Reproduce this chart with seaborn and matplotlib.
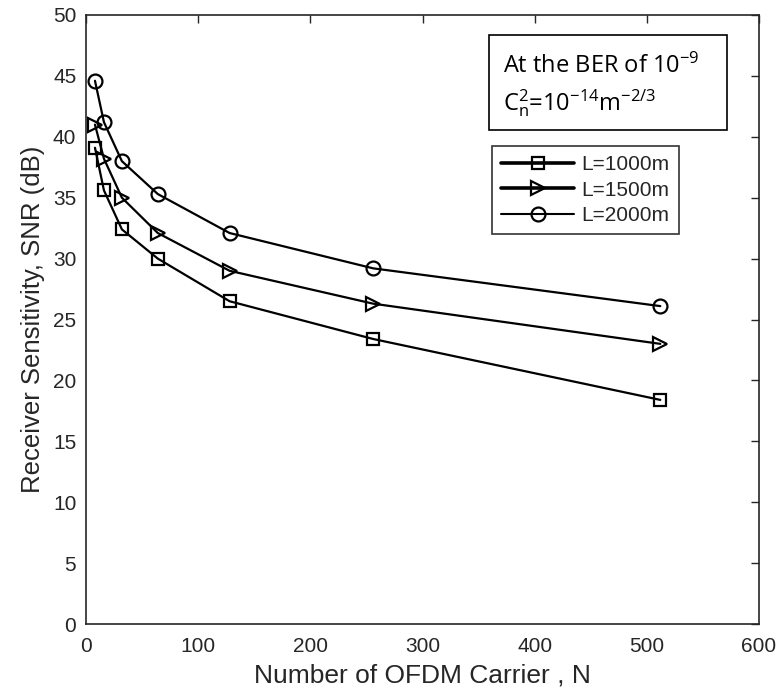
import matplotlib
matplotlib.use("Agg")
import matplotlib.pyplot as plt
from matplotlib.patches import Rectangle
import seaborn as sns
import pandas as pd

N = [8, 16, 32, 64, 128, 256, 512]
snr_1000 = [39.1, 35.6, 32.4, 30.0, 26.5, 23.4, 18.4]
snr_1500 = [41.0, 38.2, 35.0, 32.1, 29.0, 26.3, 23.0]
snr_2000 = [44.6, 41.2, 38.0, 35.3, 32.1, 29.2, 26.1]
labels = ["L=1000m", "L=1500m", "L=2000m"]
series = [snr_1000, snr_1500, snr_2000]
markers = ["s", ">", "o"]
msizes = [8.5, 10, 10]

sns.set_theme(style="white")
plt.rcParams["font.family"] = ["Liberation Sans", "DejaVu Sans"]
plt.rcParams["mathtext.fontset"] = "custom"
plt.rcParams["mathtext.rm"] = "Open Sans"
plt.rcParams["mathtext.it"] = "Open Sans"

fig = plt.figure(figsize=(7.79, 6.98), dpi=100)
ax = fig.add_axes([86 / 779, 74 / 698, 673 / 779, 609 / 698])

for lab, vals, m, ms in zip(labels, series, markers, msizes):
    df = pd.DataFrame({"N": N, "SNR": vals})
    sns.lineplot(data=df, x="N", y="SNR", ax=ax, color="black", lw=1.6,
                 marker=m, markersize=ms,
                 markerfacecolor="none", markeredgecolor="black",
                 markeredgewidth=1.6, label=lab)

ax.set_xlim(0, 600)
ax.set_ylim(0, 50)
ax.set_xticks(range(0, 601, 100))
ax.set_yticks(range(0, 51, 5))
ax.tick_params(direction="in", length=6, width=1, top=True, right=True,
               labelsize=15, colors="#262626")
ax.tick_params(axis="x", pad=9)
ax.tick_params(axis="y", pad=7)
for s in ax.spines.values():
    s.set_color("#262626")
    s.set_linewidth(1.2)
ax.set_xlabel("Number of OFDM Carrier , N", fontsize=19, color="#262626", labelpad=6)
ax.set_ylabel("Receiver Sensitivity, SNR (dB)", fontsize=18.5, color="#262626", labelpad=6)

leg = ax.legend(loc="upper left", bbox_to_anchor=(0.603, 0.785), fontsize=15,
                frameon=True, fancybox=False, edgecolor="black",
                handlelength=3.5, borderpad=0.45, labelspacing=0.3,
                handletextpad=0.35, borderaxespad=0)
leg.get_frame().set_linewidth(1.2)
for ln, w in zip(leg.get_lines(), [2.6, 2.6, 1.5]):
    ln.set_linewidth(w)

ax.add_patch(Rectangle((0.5988, 0.8112), 0.3536, 0.156, transform=ax.transAxes,
                       fill=True, fc="white", ec="black", lw=1.2, zorder=5))
ax.text(0.6196, 0.9048, "At the BER of 10$^{-9}$", transform=ax.transAxes,
        fontsize=17, family=["Open Sans", "DejaVu Sans"], va="baseline", ha="left",
        zorder=6, color="black")
ax.text(0.6196, 0.844, "C$_{\\mathregular{n}}^{\\mathregular{2}}$=10$^{-14}$m$^{-2/3}$",
        transform=ax.transAxes,
        fontsize=17, family=["Open Sans", "DejaVu Sans"], va="baseline", ha="left",
        zorder=6, color="black")

fig.savefig("out.png", dpi=100)
